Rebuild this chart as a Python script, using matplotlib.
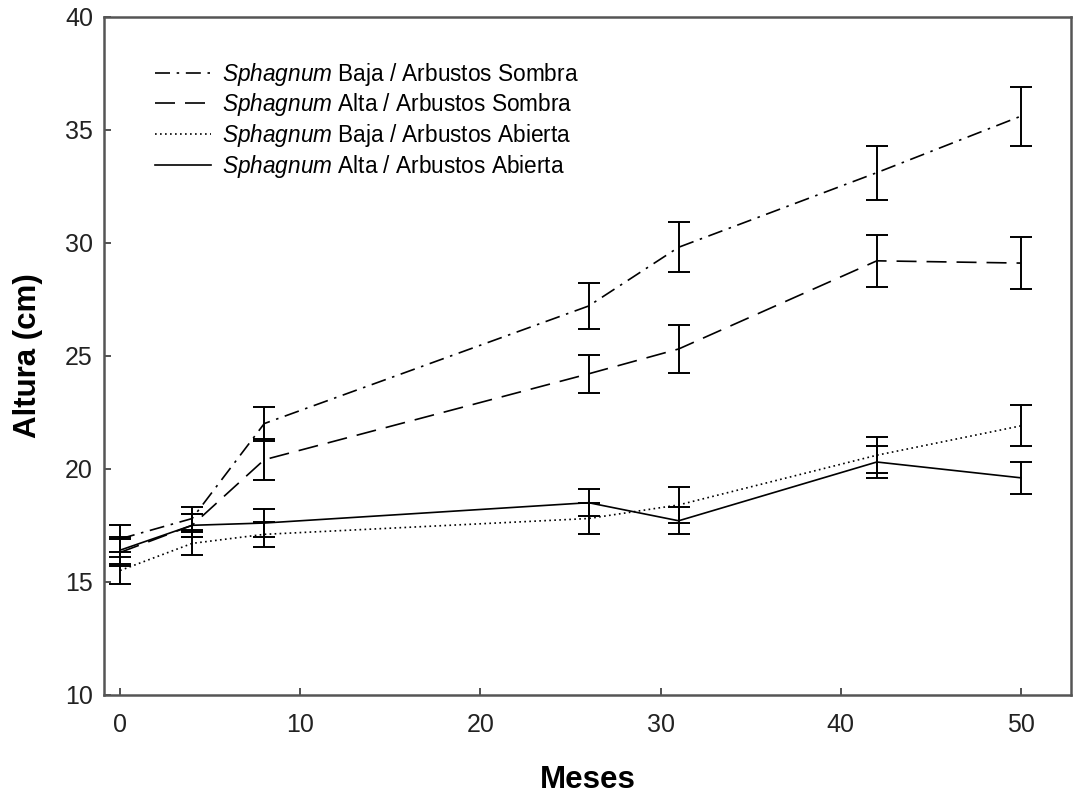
import matplotlib.pyplot as plt

plt.rcParams['font.family'] = ['Liberation Sans', 'DejaVu Sans']
plt.rcParams['mathtext.fontset'] = 'custom'
plt.rcParams['mathtext.it'] = 'Liberation Sans:italic'
plt.rcParams['mathtext.rm'] = 'Liberation Sans'

# Datos
meses = [0, 4, 8, 26, 31, 42, 50]

baja_sombra = [16.9, 17.8, 22.0, 27.2, 29.8, 33.1, 35.6]
baja_sombra_err = [0.6, 0.5, 0.75, 1.0, 1.1, 1.2, 1.3]

alta_sombra = [16.3, 17.5, 20.4, 24.2, 25.3, 29.2, 29.1]
alta_sombra_err = [0.6, 0.5, 0.9, 0.85, 1.05, 1.15, 1.15]

baja_abierta = [15.5, 16.7, 17.1, 17.8, 18.4, 20.6, 21.9]
baja_abierta_err = [0.6, 0.5, 0.55, 0.7, 0.8, 0.8, 0.9]

alta_abierta = [16.4, 17.5, 17.6, 18.5, 17.7, 20.3, 19.6]
alta_abierta_err = [0.6, 0.5, 0.6, 0.6, 0.6, 0.7, 0.7]

etiquetas = [
    r'$\it{Sphagnum}$ Baja / Arbustos Sombra',
    r'$\it{Sphagnum}$ Alta / Arbustos Sombra',
    r'$\it{Sphagnum}$ Baja / Arbustos Abierta',
    r'$\it{Sphagnum}$ Alta / Arbustos Abierta',
]

series = [
    (baja_sombra, baja_sombra_err, (0, (9, 4, 1.5, 4))),
    (alta_sombra, alta_sombra_err, (0, (12, 6))),
    (baja_abierta, baja_abierta_err, (0, (1, 2))),
    (alta_abierta, alta_abierta_err, '-'),
]

fig = plt.figure(figsize=(10.73, 7.95), dpi=100)
ax = fig.add_axes([0.097, 0.126, 0.901, 0.853])

for (y, err, ls), lab in zip(series, etiquetas):
    ax.errorbar(meses, y, yerr=err, color='black', linestyle=ls, linewidth=1.2,
                elinewidth=1.4, capsize=8, capthick=1.4, label=lab)

ax.set_xlim(-0.89, 52.77)
ax.set_ylim(10, 40)
ax.set_xticks([0, 10, 20, 30, 40, 50])
ax.set_yticks([10, 15, 20, 25, 30, 35, 40])
ax.tick_params(direction='in', length=5, width=1.2, labelsize=18,
               color='#333333', labelcolor='#222222')
ax.tick_params(axis='x', pad=13)
ax.tick_params(axis='y', pad=8)

for s in ax.spines.values():
    s.set_color('#555555')
    s.set_linewidth(1.8)

ax.set_xlabel('Meses', fontsize=22.5, fontweight='bold', labelpad=20)
ax.set_ylabel('Altura (cm)', fontsize=22.5, fontweight='bold', labelpad=16)

# quitar las lineas de error de la leyenda
handles, labels = ax.get_legend_handles_labels()
handles = [h[0] for h in handles]
ax.legend(handles, labels, loc='upper left', bbox_to_anchor=(0.053, 0.935),
          borderaxespad=0, borderpad=0, frameon=False, fontsize=16.3,
          handlelength=2.45, handletextpad=0.5, labelspacing=0.16)

fig.savefig('out.png', dpi=100)
